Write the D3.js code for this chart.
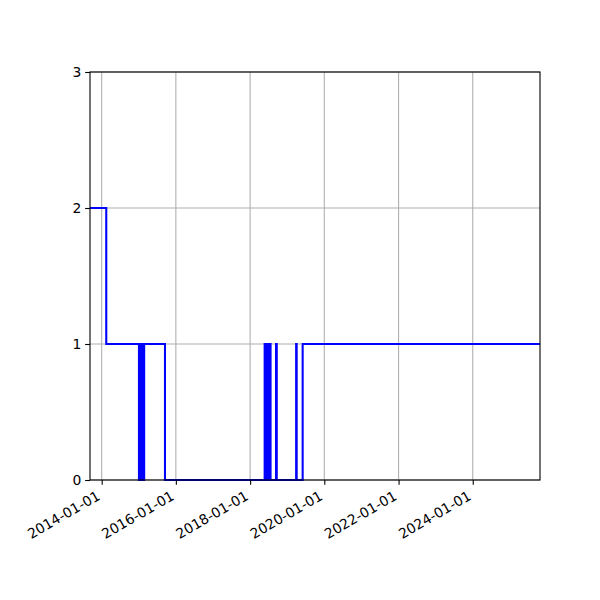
<!DOCTYPE html>
<html>
<head>
<meta charset="utf-8">
<script src="https://cdn.jsdelivr.net/npm/d3@7"></script>
<style>
  body { margin: 0; background: #fff; }
  text { font-family: "DejaVu Sans", sans-serif; }
</style>
</head>
<body>
<div id="chart"></div>
<script>
// step series: each value holds from its date until the next date
var dates = [
  "2013-09-08", "2014-02-15",
  "2015-01-03", "2015-01-06", "2015-01-09", "2015-01-12", "2015-01-15", "2015-01-18",
  "2015-01-21", "2015-01-24", "2015-01-27", "2015-01-30", "2015-02-02", "2015-02-05",
  "2015-02-08", "2015-02-11", "2015-02-14", "2015-02-17", "2015-02-20", "2015-02-23",
  "2015-09-16",
  "2018-05-24", "2018-05-27", "2018-05-30", "2018-06-02", "2018-06-05", "2018-06-08",
  "2018-06-11", "2018-06-14", "2018-06-17", "2018-06-20", "2018-06-23", "2018-06-26",
  "2018-06-29", "2018-07-02", "2018-07-05", "2018-07-08", "2018-07-11", "2018-07-14",
  "2018-07-17", "2018-07-21",
  "2018-09-13", "2018-09-20",
  "2019-03-30", "2019-04-04",
  "2019-06-02", "2025-10-24"
];
var values = [
  2, 1,
  0, 1, 0, 1, 0, 1,
  0, 1, 0, 1, 0, 1,
  0, 1, 0, 1, 0, 1,
  0,
  1, 0, 1, 0, 1, 0,
  1, 0, 1, 0, 1, 0,
  1, 0, 1, 0, 1, 0,
  1, 0,
  1, 0,
  1, 0,
  1, 1
];
var xTickDates = ["2014-01-01", "2016-01-01", "2018-01-01", "2020-01-01", "2022-01-01", "2024-01-01"];
var yTicks = [0, 1, 2, 3];

var parse = d3.utcParse("%Y-%m-%d");
var fmt = d3.utcFormat("%Y-%m-%d");
var data = dates.map(function (d, i) { return { date: parse(d), value: values[i] }; });

var width = 600, height = 600;
var margin = { left: 90, right: 60, top: 72, bottom: 120 };
var tickLen = 4.86, pad = 4.86;

var svg = d3.select("#chart").append("svg")
  .attr("width", width)
  .attr("height", height);

svg.append("rect").attr("width", width).attr("height", height).attr("fill", "#fff");

var x = d3.scaleUtc()
  .domain(d3.extent(data, function (d) { return d.date; }))
  .range([margin.left, width - margin.right]);

var y = d3.scaleLinear()
  .domain([0, 3])
  .range([height - margin.bottom, margin.top]);

var xTicks = xTickDates.map(parse);

// grid
var grid = svg.append("g").attr("stroke", "#b0b0b0").attr("stroke-width", 1.1);
grid.selectAll("line.gx").data(xTicks).enter().append("line")
  .attr("x1", function (d) { return x(d); })
  .attr("x2", function (d) { return x(d); })
  .attr("y1", y(0)).attr("y2", y(3));
grid.selectAll("line.gy").data(yTicks).enter().append("line")
  .attr("x1", x.range()[0]).attr("x2", x.range()[1])
  .attr("y1", function (d) { return y(d); })
  .attr("y2", function (d) { return y(d); });

// step line
var line = d3.line()
  .x(function (d) { return x(d.date); })
  .y(function (d) { return y(d.value); })
  .curve(d3.curveStepAfter);

svg.append("path")
  .datum(data)
  .attr("fill", "none")
  .attr("stroke", "#0000ff")
  .attr("stroke-width", 2.08)
  .attr("d", line);

// axes
var xAxis = d3.axisBottom(x)
  .tickValues(xTicks)
  .tickFormat(fmt)
  .tickSize(tickLen)
  .tickPadding(pad);

var gx = svg.append("g")
  .attr("transform", "translate(0," + y(0) + ")")
  .call(xAxis);
gx.select(".domain").remove();
gx.selectAll(".tick line").attr("stroke", "#000").attr("stroke-width", 1.1);
// rotated like matplotlib's autofmt_xdate (30 deg, right aligned)
gx.selectAll(".tick text")
  .attr("font-size", 13.9)
  .attr("fill", "#000")
  .attr("text-anchor", "end")
  .attr("x", -5.5)
  .attr("y", -3.3)
  .attr("dy", "0.76em")
  .attr("transform", "translate(0," + (tickLen + pad) + ") rotate(-30)");

var yAxis = d3.axisLeft(y)
  .tickValues(yTicks)
  .tickFormat(d3.format("d"))
  .tickSize(tickLen)
  .tickPadding(pad);

var gy = svg.append("g")
  .attr("transform", "translate(" + margin.left + ",0)")
  .call(yAxis);
gy.select(".domain").remove();
gy.selectAll(".tick line").attr("stroke", "#000").attr("stroke-width", 1.1);
gy.selectAll(".tick text").attr("font-size", 13.9).attr("fill", "#000").attr("x", -(tickLen + pad) + 1);

// spines
svg.append("rect")
  .attr("x", margin.left)
  .attr("y", margin.top)
  .attr("width", width - margin.left - margin.right)
  .attr("height", height - margin.top - margin.bottom)
  .attr("fill", "none")
  .attr("stroke", "#000")
  .attr("stroke-width", 1.1);
</script>
</body>
</html>
